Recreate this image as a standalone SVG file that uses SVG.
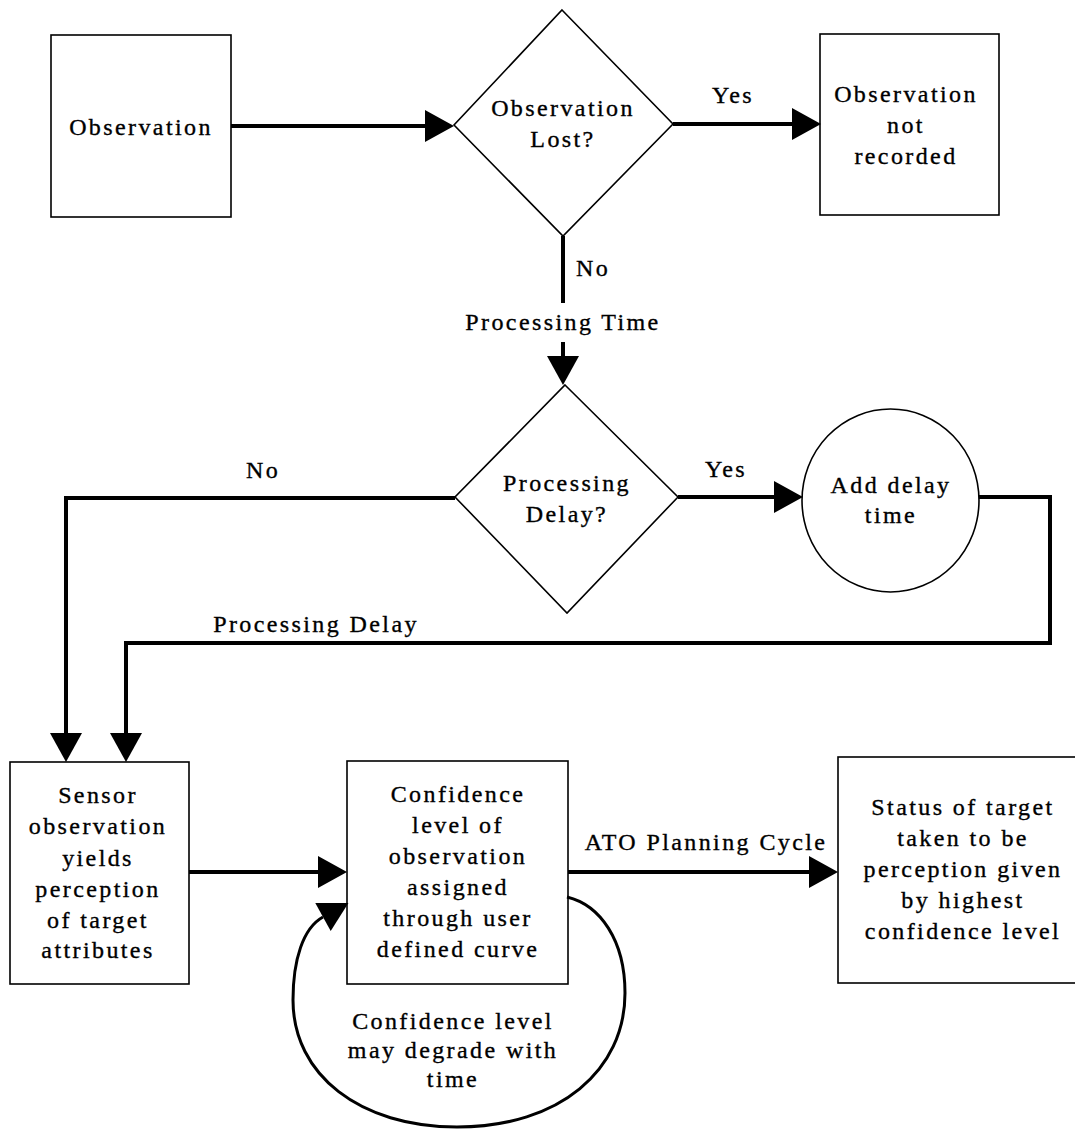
<svg xmlns="http://www.w3.org/2000/svg" width="1075" height="1129" viewBox="0 0 1075 1129">
  <style>
    .shape { fill: #fff; stroke: #000; stroke-width: 1.6; }
    .wire { fill: none; stroke: #000; stroke-width: 4; }
    .loop { fill: none; stroke: #000; stroke-width: 3; }
    text { font-family: "Liberation Serif", "Times New Roman", serif; font-size: 24px; letter-spacing: 2.4px; fill: #000; stroke: #000; stroke-width: 0.35; }
    .c { text-anchor: middle; }
  </style>
  <defs>
    <marker id="head" markerUnits="userSpaceOnUse" markerWidth="31" markerHeight="34" viewBox="0 -17 31 34" refX="0" refY="0" orient="auto" overflow="visible">
      <path d="M0,-16 L29,0 L0,16 Z" fill="#000"/>
    </marker>
  </defs>
  <rect width="1075" height="1129" fill="#fff"/>

  <!-- nodes -->
  <g id="observation">
    <rect class="shape" x="51" y="35" width="180" height="182"/>
    <text class="c" x="141" y="135">Observation</text>
  </g>

  <g id="observation-lost">
    <polygon class="shape" points="562,10 673,124 563,236 454,125"/>
    <text class="c" x="563" y="116">Observation</text>
    <text class="c" x="563" y="147">Lost?</text>
  </g>

  <g id="not-recorded">
    <rect class="shape" x="820" y="34" width="179" height="181"/>
    <text class="c" x="906" y="102">Observation</text>
    <text class="c" x="906" y="133">not</text>
    <text class="c" x="906" y="164">recorded</text>
  </g>

  <g id="processing-delay">
    <polygon class="shape" points="565,385 678,497 567,613 455,497"/>
    <text class="c" x="567" y="491">Processing</text>
    <text class="c" x="567" y="522">Delay?</text>
  </g>

  <g id="add-delay">
    <ellipse class="shape" cx="890.5" cy="500.5" rx="88.5" ry="91.5"/>
    <text class="c" x="891" y="493">Add delay</text>
    <text class="c" x="891" y="523">time</text>
  </g>

  <g id="sensor">
    <rect class="shape" x="10" y="762" width="179" height="222"/>
    <text class="c" x="98" y="803">Sensor</text>
    <text class="c" x="98" y="834">observation</text>
    <text class="c" x="98" y="866">yields</text>
    <text class="c" x="98" y="897">perception</text>
    <text class="c" x="98" y="928">of target</text>
    <text class="c" x="98" y="958">attributes</text>
  </g>

  <g id="confidence">
    <rect class="shape" x="347" y="761" width="221" height="223"/>
    <text class="c" x="458" y="802">Confidence</text>
    <text class="c" x="458" y="833">level of</text>
    <text class="c" x="458" y="864">observation</text>
    <text class="c" x="458" y="895">assigned</text>
    <text class="c" x="458" y="926">through user</text>
    <text class="c" x="458" y="957">defined curve</text>
  </g>

  <g id="status">
    <rect class="shape" x="838" y="757" width="252" height="226"/>
    <text class="c" x="963" y="815">Status of target</text>
    <text class="c" x="963" y="846">taken to be</text>
    <text class="c" x="963" y="877">perception given</text>
    <text class="c" x="963" y="908">by highest</text>
    <text class="c" x="963" y="939">confidence level</text>
  </g>

  <!-- connectors -->
  <g id="connectors">
    <path class="wire" d="M231,126 H425" marker-end="url(#head)"/>
    <path class="wire" d="M673,124 H792" marker-end="url(#head)"/>
    <path class="wire" d="M563,236 V303"/>
    <path class="wire" d="M563,342 V356" marker-end="url(#head)"/>
    <path class="wire" d="M455,498 H66 V733" marker-end="url(#head)"/>
    <path class="wire" d="M678,497 H774" marker-end="url(#head)"/>
    <path class="wire" d="M979,497 H1050 V643 H126 V733" marker-end="url(#head)"/>
    <path class="wire" d="M189,872 H318" marker-end="url(#head)"/>
    <path class="wire" d="M568,872 H809" marker-end="url(#head)"/>
    <path class="loop" d="M567,897 C600,905 625,940 625,993 C625,1070 560,1127 457,1127 C360,1127 293,1075 293,1000 C293,960 303,928 323,917" marker-end="url(#head)"/>
  </g>

  <!-- connector labels -->
  <g id="labels">
    <text class="c" x="733" y="103">Yes</text>
    <text x="576" y="276">No</text>
    <text class="c" x="563" y="330">Processing Time</text>
    <text class="c" x="263" y="478">No</text>
    <text class="c" x="726" y="477">Yes</text>
    <text class="c" x="316" y="632">Processing Delay</text>
    <text class="c" x="706" y="850">ATO Planning Cycle</text>
    <text class="c" x="453" y="1029">Confidence level</text>
    <text class="c" x="453" y="1058">may degrade with</text>
    <text class="c" x="453" y="1087">time</text>
  </g>
</svg>
